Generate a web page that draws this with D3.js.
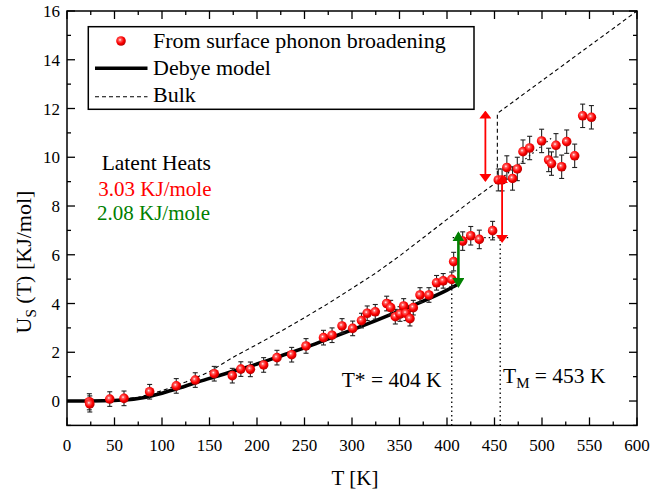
<!DOCTYPE html>
<html><head><meta charset="utf-8">
<script src="https://cdn.jsdelivr.net/npm/d3@7"></script>
<style>body{margin:0;background:#fff}svg{display:block}</style>
</head><body>
<svg id="c" width="650" height="498"></svg>
<script>
// ---- data ----
const pointT = [23.5,24,45,60,87,115,135,155,174,183,193,207,221,236.5,251.6,270,279,289.5,300.7,310,316,324.5,336.5,340.7,345.6,350.5,354.4,356.8,361,364.5,371.6,381,389,396,405,407,416.5,425,434,448,454,458,463,469,474,480,487,499.6,507,510,514.7,520.7,526,534.4,542.8,552];
const pointU = [-0.03,-0.12,0.08,0.11,0.38,0.62,0.86,1.12,1.04,1.31,1.30,1.48,1.78,1.9,2.26,2.6,2.7,3.08,2.98,3.3,3.6,3.66,4.0,3.83,3.46,3.57,3.9,3.6,3.38,3.83,4.35,4.35,4.85,4.93,4.99,5.72,6.56,6.78,6.63,6.99,9.07,9.07,9.58,9.13,9.52,10.23,10.38,10.67,9.89,9.74,10.49,9.61,10.64,10.06,11.7,11.64];
const pointErr = [0.33,0.33,0.3,0.3,0.3,0.3,0.3,0.3,0.3,0.3,0.3,0.3,0.3,0.3,0.3,0.3,0.3,0.3,0.3,0.3,0.3,0.3,0.3,0.3,0.3,0.3,0.3,0.3,0.3,0.3,0.3,0.3,0.3,0.3,0.3,0.38,0.38,0.38,0.38,0.38,0.45,0.45,0.48,0.48,0.48,0.48,0.48,0.48,0.48,0.48,0.48,0.48,0.48,0.48,0.48,0.48];
const debyeT = [0,25,50,75,100,125,150,175,200,225,250,275,300,325,350,375,400,412];
const debyeU = [0,0,0.02,0.1,0.32,0.62,0.93,1.22,1.52,1.85,2.18,2.55,2.92,3.3,3.7,4.1,4.55,4.8];
const bulkSolidT = [0,50,75,100,125,150,175,200,225,250,275,300,325,350,375,400,425,453];
const bulkSolidU = [0,0.03,0.15,0.42,0.78,1.2,1.8,2.32,2.86,3.42,4.0,4.62,5.25,5.95,6.7,7.45,8.2,9.0];
const bulkLiquidT = [453,453,600];
const bulkLiquidU = [9.0,11.8,16];
const superheatT = [453,512];
const superheatU = [9.0,10.85];
const xTicks = [0,50,100,150,200,250,300,350,400,450,500,550,600];
const yTicks = [0,2,4,6,8,10,12,14,16];
const legendLabels = ["From surface phonon broadening","Debye model","Bulk"];

const FONT = "'Liberation Serif', 'Times New Roman', Times, 'DejaVu Serif', serif";
const svg = d3.select("#c");
const x = d3.scaleLinear().domain([0,600]).range([67,637]);
const y = d3.scaleLinear().domain([-1,16]).range([425.4,11]);

const defs = svg.append("defs");
const g = defs.append("radialGradient").attr("id","ball").attr("cx","0.4").attr("cy","0.38").attr("r","0.65");
g.append("stop").attr("offset","0").attr("stop-color","#ffffff");
g.append("stop").attr("offset","0.22").attr("stop-color","#ff6060");
g.append("stop").attr("offset","0.6").attr("stop-color","#ff0000");
g.append("stop").attr("offset","1").attr("stop-color","#b00000");

defs.append("marker").attr("id","ar").attr("viewBox","0 0 10 10").attr("refX",8).attr("refY",5)
  .attr("markerWidth",8).attr("markerHeight",12).attr("markerUnits","userSpaceOnUse").attr("orient","auto-start-reverse")
  .attr("preserveAspectRatio","none")
  .append("path").attr("d","M0,0 L10,5 L0,10 Z").attr("fill","#ff0000");
defs.append("marker").attr("id","ag").attr("viewBox","0 0 10 10").attr("refX",8).attr("refY",5)
  .attr("markerWidth",10).attr("markerHeight",12).attr("markerUnits","userSpaceOnUse").attr("orient","auto-start-reverse")
  .attr("preserveAspectRatio","none")
  .append("path").attr("d","M0,0 L10,5 L0,10 Z").attr("fill","#008000");

const line = d3.line().x(d=>x(d[0])).y(d=>y(d[1]));

svg.append("path").attr("d",line(d3.zip(bulkSolidT,bulkSolidU))).attr("fill","none").attr("stroke","#000").attr("stroke-width",1.1).attr("stroke-dasharray","4,3");
svg.append("path").attr("d",line(d3.zip(bulkLiquidT,bulkLiquidU))).attr("fill","none").attr("stroke","#000").attr("stroke-width",1.1).attr("stroke-dasharray","4,3");
svg.append("path").attr("d",line(d3.zip(superheatT,superheatU))).attr("fill","none").attr("stroke","#000").attr("stroke-width",1.2).attr("stroke-dasharray","1.5,3");
svg.append("path").attr("d",line([[406,6.7],[467,6.7]])).attr("fill","none").attr("stroke","#000").attr("stroke-width",1.2).attr("stroke-dasharray","1.5,3");
svg.append("path").attr("d",line([[405,-1],[405,4.85]])).attr("fill","none").attr("stroke","#000").attr("stroke-width",1.3).attr("stroke-dasharray","1.5,3");
svg.append("path").attr("d",line([[456,-1],[456,6.7]])).attr("fill","none").attr("stroke","#000").attr("stroke-width",1.3).attr("stroke-dasharray","1.5,3");

svg.append("path").attr("d",d3.line().curve(d3.curveMonotoneX).x(d=>x(d[0])).y(d=>y(d[1]))(d3.zip(debyeT,debyeU)))
  .attr("fill","none").attr("stroke","#000").attr("stroke-width",3.6);

const pts = d3.zip(pointT,pointU,pointErr);
const eb = svg.append("g").attr("stroke","#222").attr("stroke-width",1.1);
pts.forEach(([t,u,e])=>{
  eb.append("line").attr("x1",x(t)).attr("x2",x(t)).attr("y1",y(u-e)).attr("y2",y(u+e));
  eb.append("line").attr("x1",x(t)-2.5).attr("x2",x(t)+2.5).attr("y1",y(u-e)).attr("y2",y(u-e));
  eb.append("line").attr("x1",x(t)-2.5).attr("x2",x(t)+2.5).attr("y1",y(u+e)).attr("y2",y(u+e));
});
svg.append("g").selectAll("circle").data(pts).join("circle")
  .attr("cx",d=>x(d[0])).attr("cy",d=>y(d[1])).attr("r",4.8).attr("fill","url(#ball)");

svg.append("line").attr("x1",x(440.4)).attr("x2",x(440.4)).attr("y1",y(11.85)).attr("y2",y(9.05))
  .attr("stroke","#ff0000").attr("stroke-width",1.8).attr("marker-start","url(#ar)").attr("marker-end","url(#ar)");
svg.append("line").attr("x1",x(458)).attr("x2",x(458)).attr("y1",y(9.2)).attr("y2",y(6.55))
  .attr("stroke","#ff0000").attr("stroke-width",1.8).attr("marker-start","url(#ar)").attr("marker-end","url(#ar)");
svg.append("line").attr("x1",x(412)).attr("x2",x(412)).attr("y1",y(6.88)).attr("y2",y(4.72))
  .attr("stroke","#008000").attr("stroke-width",2.6).attr("marker-start","url(#ag)").attr("marker-end","url(#ag)");

const fr = svg.append("g");
fr.append("rect").attr("x",x(0)).attr("y",y(16)).attr("width",x(600)-x(0)).attr("height",y(-1)-y(16))
  .attr("fill","none").attr("stroke","#000").attr("stroke-width",1.5);
const xAll = d3.range(0,601,25), yAll = d3.range(-1,16.01,1);
xAll.forEach(v=>{
  const L = v%50===0?8:4;
  fr.append("line").attr("x1",x(v)).attr("x2",x(v)).attr("y1",y(-1)).attr("y2",y(-1)-L).attr("stroke","#000").attr("stroke-width",1.3);
  fr.append("line").attr("x1",x(v)).attr("x2",x(v)).attr("y1",y(16)).attr("y2",y(16)+L).attr("stroke","#000").attr("stroke-width",1.3);
});
yAll.forEach(v=>{
  const L = (v%2===0)?8:4;
  fr.append("line").attr("y1",y(v)).attr("y2",y(v)).attr("x1",x(0)).attr("x2",x(0)+L).attr("stroke","#000").attr("stroke-width",1.3);
  fr.append("line").attr("y1",y(v)).attr("y2",y(v)).attr("x1",x(600)).attr("x2",x(600)-L).attr("stroke","#000").attr("stroke-width",1.3);
});
svg.append("g").selectAll("text").data(xTicks).join("text")
  .attr("x",d=>x(d)).attr("y",451).attr("text-anchor","middle").attr("font-size",17).text(d=>d);
svg.append("g").selectAll("text").data(yTicks).join("text")
  .attr("x",60).attr("y",d=>y(d)+6).attr("text-anchor","end").attr("font-size",17).text(d=>d);

svg.append("text").attr("x",355).attr("y",485).attr("text-anchor","middle").attr("font-size",21).text("T [K]");
const yl = svg.append("text").attr("transform","translate(31,262) rotate(-90)").attr("text-anchor","middle").attr("font-size",22);
yl.append("tspan").text("U");
yl.append("tspan").attr("font-size",15).attr("dy",5).text("S");
yl.append("tspan").attr("dy",-5).text(" (T) [KJ/mol]");

const lg = svg.append("g");
lg.append("rect").attr("x",88.3).attr("y",26.7).attr("width",474-88.3).attr("height",109.3-26.7).attr("fill","#fff").attr("stroke","#000").attr("stroke-width",1.5);
lg.append("circle").attr("cx",121).attr("cy",41).attr("r",4.8).attr("fill","url(#ball)");
lg.append("line").attr("x1",95).attr("x2",147.5).attr("y1",68.3).attr("y2",68.3).attr("stroke","#000").attr("stroke-width",3.6);
lg.append("line").attr("x1",95).attr("x2",147.5).attr("y1",96.7).attr("y2",96.7).attr("stroke","#000").attr("stroke-width",1.1).attr("stroke-dasharray","4,3");
lg.selectAll("text").data(legendLabels).join("text").attr("x",153).attr("y",(d,i)=>[48,75,102][i]).attr("font-size",22).text(d=>d);

svg.append("text").attr("x",101.7).attr("y",170).attr("font-size",21.5).text("Latent Heats");
svg.append("text").attr("x",98.3).attr("y",196).attr("font-size",21).attr("fill","#ff0000").text("3.03 KJ/mole");
svg.append("text").attr("x",97).attr("y",219.6).attr("font-size",21).attr("fill","#008000").text("2.08 KJ/mole");
svg.append("text").attr("x",341.7).attr("y",386.7).attr("font-size",21.5).text("T* = 404 K");
const tm = svg.append("text").attr("x",503).attr("y",383).attr("font-size",21.5);
tm.append("tspan").text("T");
tm.append("tspan").attr("font-size",15).attr("dy",5).text("M");
tm.append("tspan").attr("dy",-5).text(" = 453 K");

svg.selectAll("text").style("font-family", FONT);
</script>
</body></html>
